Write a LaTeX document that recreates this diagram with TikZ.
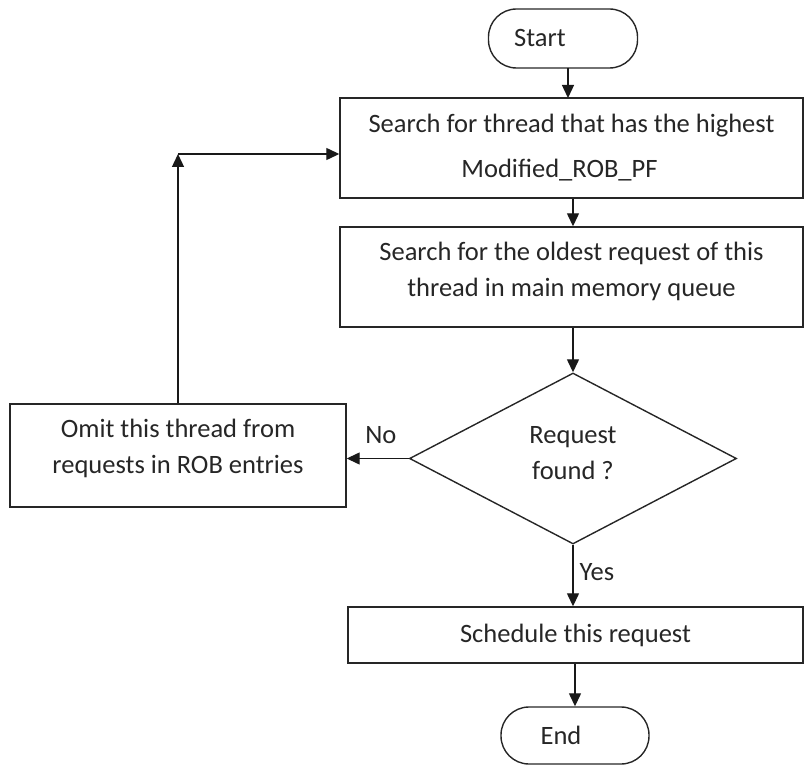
\documentclass[tikz,border=0pt]{standalone}
\usepackage{fontspec}
\setmainfont{Carlito}
\usetikzlibrary{arrows.meta,shapes.geometric}
\tikzset{
  box/.style={draw=black!85, line width=1.4pt, rectangle, inner sep=0pt, align=center,
    font=\fontsize{26.5}{36}\selectfont, text=black!85},
  terminal/.style={box, rounded corners=28pt},
  decision/.style={box, diamond},
  arr/.style={line width=1.3pt, draw=black!90, -{Triangle[length=13pt,width=12pt]}},
  lbl/.style={font=\fontsize{26.5}{36}\selectfont, text=black!85, inner sep=0pt}
}
\begin{document}
\begin{tikzpicture}[x=1pt,y=-1pt]
\useasboundingbox (0,0) rectangle (804,765);
\node[terminal, minimum width=149pt, minimum height=59pt] (start) at (563,38.5) {Start\hspace*{46pt}};
\node[box, minimum width=463pt, minimum height=100pt] (box1) at (571.5,148)
  {Search for thread that has the highest\\[9pt]Modified\_ROB\_PF\hspace*{24pt}};
\node[box, minimum width=463pt, minimum height=100pt, text depth=16pt] (box2) at (571.5,277)
  {Search for the oldest request of this\\thread in main memory queue};
\node[decision, minimum width=327pt, minimum height=171pt, text depth=12pt] (dec) at (573,458.5)
  {Request\\found ?};
\node[box, minimum width=336pt, minimum height=103pt, text depth=18pt] (box3) at (178,455.5)
  {Omit this thread from\\requests in ROB entries};
\node[box, minimum width=455pt, minimum height=56pt] (box4) at (575.5,635)
  {Schedule this request};
\node[terminal, minimum width=148pt, minimum height=57pt] (end) at (575,735.5) {End\hspace*{28pt}};
\coordinate (corner) at (178,154);

\draw[arr] (568,68) -- (568,98);
\draw[arr] (box1.south -| 573,0) -- (box2.north -| 573,0);
\draw[arr] (box2.south -| dec.north) -- (dec.north);
\draw[arr] (dec.west) -- (dec.west -| box3.east) node[lbl, pos=0.45, above=14pt] {No};
\draw[arr] (dec.south) -- (dec.south |- box4.north) node[lbl, pos=0.45, right=6pt] {Yes};
\draw[arr] (box4.south -| end.north) -- (end.north);
\draw[arr] (box3.north) -- (corner);
\draw[arr] (corner) -- (corner -| box1.west);
\end{tikzpicture}
\end{document}
